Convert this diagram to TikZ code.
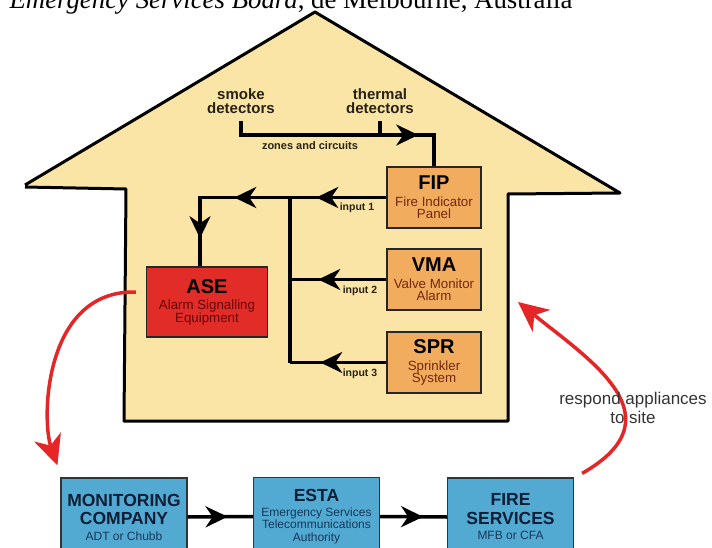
\documentclass[tikz,border=0pt]{standalone}
\usepackage{fontspec}
\setmainfont{Liberation Serif}
\newfontfamily\arialfont{Liberation Sans}
\usetikzlibrary{arrows.meta,calc,decorations.markings}

\definecolor{wallfill}{RGB}{251,229,166}
\definecolor{panelorange}{RGB}{242,172,94}
\definecolor{aseRed}{RGB}{226,44,40}
\definecolor{agencyblue}{RGB}{82,170,210}
\definecolor{curvered}{RGB}{230,38,38}
\definecolor{subbrown}{RGB}{115,40,15}
\definecolor{subred}{RGB}{100,8,8}
\definecolor{navytext}{RGB}{14,30,55}
\definecolor{subnavy}{RGB}{22,55,90}
\definecolor{inktext}{RGB}{40,34,20}

\newcommand{\paneltitle}[1]{{\fontsize{20}{20}\selectfont\bfseries\color{black}#1}}
\newcommand{\agencytitle}[1]{{\fontsize{17.5}{19}\selectfont\bfseries\color{navytext}#1}}

\tikzset{
  bigtip/.tip={Stealth[length=22pt,width=21pt,inset=7pt]},
  redtip/.tip={Stealth[length=30pt,width=28pt,inset=9pt]},
  heads/.style={postaction={decorate,decoration={markings,
      mark=at position #1 with {\arrow{bigtip}}}}},
}

\begin{document}
\begin{tikzpicture}[x=1pt,y=-1pt,font=\arialfont,
    wire/.style={draw=black,line width=3.5pt},
    panel/.style={draw=black!85,line width=1.5pt,fill=panelorange,
      minimum width=94pt,minimum height=61pt,inner sep=0pt,align=center,
      text=subbrown,font=\arialfont\fontsize{13.3}{12.5}\selectfont},
    agency/.style={draw=black!80,line width=1.2pt,fill=agencyblue,
      minimum width=126pt,minimum height=78pt,inner sep=0pt,align=center,
      text=subnavy,font=\arialfont\fontsize{12}{12.5}\selectfont},
    lbl/.style={align=center,text=inktext,
      font=\arialfont\bfseries\fontsize{15}{14}\selectfont},
    inlbl/.style={text=inktext,font=\arialfont\bfseries\fontsize{10.5}{11}\selectfont},
    curve/.style={draw=curvered,line width=3.5pt,-redtip}]
  \clip (0,0) rectangle (712,548);

  \node[anchor=base west,font=\rmfamily\fontsize{26.8}{27}\selectfont] (hdr) at (6,9)
    {\textit{Emergency Services Board}, de Melbourne, Australia};

  \coordinate (apex) at (315,12);
  \coordinate (site) at (518,302);
  \fill[wallfill] (25,185) -- (apex) -- (620,193) -- (508,194) -- (508,421)
    -- (124,421) -- (126,189) -- cycle;
  \draw[line width=3pt,line join=round] (25,185) -- (apex) -- (620,193) -- (508,194)
    -- (508,421) -- (124,421) -- (126,189) -- (25,187);

  \node[lbl] (smoke)   at (241,101) {smoke\\detectors};
  \node[lbl] (thermal) at (380,101) {thermal\\detectors};
  \node[inlbl,font=\arialfont\bfseries\fontsize{11}{11}\selectfont] (zones) at (310,146) {zones and circuits};

  \node[panel] (FIP) at (434,197.5) {\paneltitle{FIP}\\[4pt]Fire Indicator\\Panel};
  \node[panel] (VMA) at (434,279.5) {\paneltitle{VMA}\\[4pt]Valve Monitor\\Alarm};
  \node[panel] (SPR) at (434,362.5) {\paneltitle{SPR}\\[4pt]Sprinkler\\System};
  \node[panel,fill=aseRed,minimum width=121pt,minimum height=70pt,text=subred]
    (ASE) at (207,302) {\paneltitle{ASE}\\[4pt]Alarm Signalling\\Equipment};

  \node[inlbl] (in1) at (357,208) {input 1};
  \node[inlbl] (in2) at (360,291) {input 2};
  \node[inlbl] (in3) at (360,374) {input 3};

  \node[agency] (MON)  at (124,517) {\agencytitle{MONITORING}\\[6pt]\agencytitle{COMPANY}\\[3pt]ADT or Chubb};
  \node[agency] (ESTA) at (316.5,516.5) {\agencytitle{ESTA}\\[2pt]Emergency Services\\Telecommunications\\Authority};
  \node[agency] (FIRE) at (510.5,517) {\agencytitle{FIRE}\\[6pt]\agencytitle{SERVICES}\\[3pt]MFB or CFA};

  \coordinate (zc) at (434,135);
  \coordinate (jn) at (290,197.5);

  \draw[wire,heads=-47pt,shorten <=4pt] (smoke.south) |- (zc) -- (FIP.north);
  \draw[wire,shorten <=4pt] (thermal.south) -- (thermal.south |- zc);
  \draw[wire,heads=70pt,heads=152pt,heads=227pt] (FIP.west) -| ($(ASE.north)+(-7,0)$);
  \draw[wire] (jn) -- (jn |- SPR.west);
  \draw[wire,heads=68pt] (VMA.west) -- (VMA.west -| jn);
  \draw[wire,heads=66pt] (SPR.west) -- (SPR.west -| jn);

  \draw[wire,heads=40pt] (MON.east) -- (ESTA.west);
  \draw[wire,heads=43pt] (ESTA.east) -- (FIRE.west);

  \draw[curve] ($(ASE.west)+(-10,-10)$) .. controls +(-92,-2) and +(-16,-46) .. ($(MON.north west)+(-3,-12)$);
  \draw[curve] ($(FIRE.north east)+(8,-4)$) .. controls +(98,-56) and +(72,58) .. (site);

  \node[align=center,text=black!80,font=\arialfont\fontsize{17}{19}\selectfont] (resp) at (633,408)
    {respond appliances\\to site};
\end{tikzpicture}
\end{document}
